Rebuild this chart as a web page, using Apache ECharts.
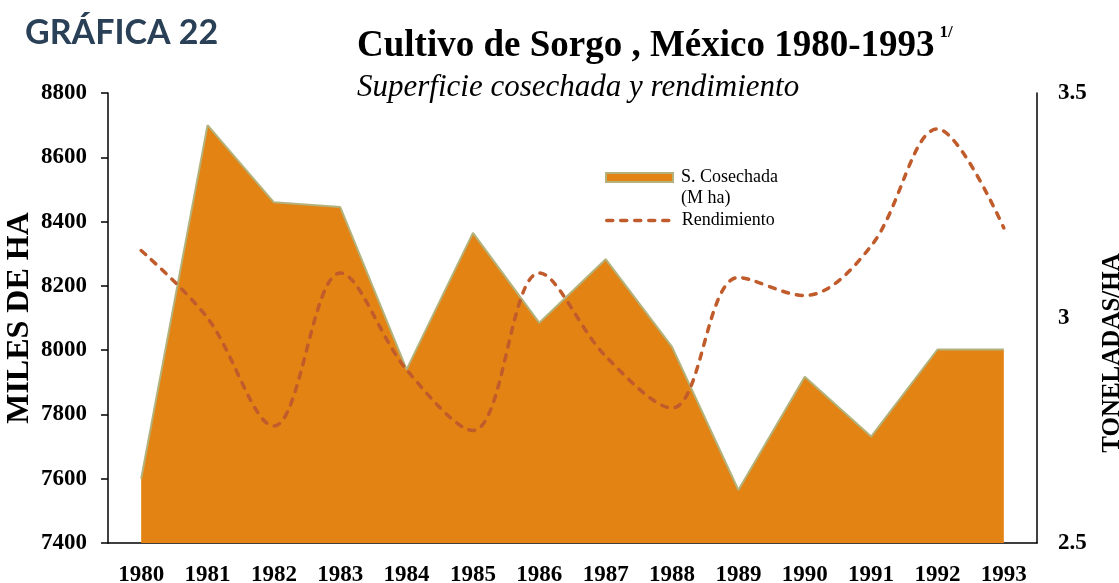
<!DOCTYPE html>
<html>
<head>
<meta charset="utf-8">
<title>Cultivo de Sorgo, México 1980-1993</title>
<script src="https://cdn.jsdelivr.net/npm/echarts@6/dist/echarts.min.js"></script>
<style>
  html, body { margin: 0; padding: 0; background: #fff; }
  #chart { width: 1119px; height: 583px; }
</style>
</head>
<body>
<div id="chart"></div>
<script>
// datos
const years = ['1980', '1981', '1982', '1983', '1984', '1985', '1986',
  '1987', '1988', '1989', '1990', '1991', '1992', '1993']
// superficie cosechada, miles de ha
const superficie = [7600, 8700, 8460, 8445, 7940, 8365, 8085, 8283, 8010, 7565, 7917, 7731, 8002, 8002]
// rendimiento, toneladas/ha
const rendimiento = [3.15, 3.0, 2.76, 3.10, 2.885, 2.75, 3.10, 2.915, 2.80, 3.09, 3.05, 3.16, 3.42, 3.20]

const serif = "'Liberation Serif', 'Times New Roman', serif"
const orange = '#e38314'
const olive = '#b3b27c'
const rust = '#c05b2c'

let myChart = echarts.init(document.getElementById('chart'))
let option = {
  backgroundColor: '#fff',
  animation: false,
  graphic: [{
    type: 'text',
    left: 25,
    top: 16,
    style: {
      text: 'GRÁFICA 22',
      font: "bold 34px Lato, 'Open Sans', sans-serif",
      fill: '#2a4057'
    }
  }],
  title: {
    left: 357,
    top: 24,
    itemGap: 8,
    padding: 0,
    text: '{a|Cultivo de Sorgo , México 1980-1993} {b|1/}',
    textStyle: {
      rich: {
        a: { fontFamily: serif, fontWeight: 'bold', fontSize: 37, color: '#000', lineHeight: 44 },
        b: { fontFamily: serif, fontWeight: 'bold', fontSize: 17, color: '#000', verticalAlign: 'top', lineHeight: 44, padding: [0, 0, 16, 0] }
      }
    },
    subtext: 'Superficie cosechada y rendimiento',
    subtextStyle: {
      fontFamily: serif,
      fontStyle: 'italic',
      fontSize: 31,
      color: '#000'
    }
  },
  legend: [{
    left: 605,
    top: 146,
    padding: 0,
    itemWidth: 67,
    itemHeight: 9,
    selectedMode: false,
    data: [{
      name: 'S. Cosechada',
      icon: 'rect',
      itemStyle: { color: orange, borderColor: olive, borderWidth: 2 }
    }],
    // linea vacia arriba para que el icono quede junto a la primera linea
    formatter: () => ' \nS. Cosechada\n(M ha)',
    textStyle: {
      fontFamily: serif,
      fontSize: 18,
      lineHeight: 21,
      color: '#000',
      padding: [0, 0, 0, 3]
    }
  }, {
    left: 605,
    top: 210,
    padding: 0,
    itemWidth: 67,
    itemHeight: 9,
    selectedMode: false,
    data: [{
      name: 'Rendimiento',
      itemStyle: { color: 'rgba(0,0,0,0)', borderWidth: 0, opacity: 0 },
      lineStyle: { color: rust, width: 3.5, type: [6, 8], cap: 'round' }
    }],
    textStyle: {
      fontFamily: serif,
      fontSize: 18,
      lineHeight: 21,
      color: '#000',
      padding: [0, 0, 0, 3]
    }
  }],
  grid: {
    left: 108,
    right: 82,
    top: 93,
    bottom: 40,
    outerBoundsMode: 'none'
  },
  xAxis: {
    type: 'category',
    data: years,
    boundaryGap: true,
    axisLine: { show: true, lineStyle: { color: '#000', width: 1.5 } },
    axisTick: { show: false },
    axisLabel: {
      margin: 21,
      fontFamily: serif,
      fontWeight: 'bold',
      fontSize: 23,
      color: '#000'
    },
    splitLine: { show: false }
  },
  yAxis: [{
    type: 'value',
    min: 7400,
    max: 8800,
    interval: 200,
    name: 'MILES DE HA',
    nameLocation: 'middle',
    nameGap: 72,
    nameMoveOverlap: false,
    nameTextStyle: {
      fontFamily: serif,
      fontWeight: 'bold',
      fontSize: 32,
      color: '#000'
    },
    axisLine: { show: true, lineStyle: { color: '#000', width: 1.5 } },
    axisTick: { show: true, length: 7, lineStyle: { color: '#000', width: 1.5 } },
    axisLabel: {
      margin: 21,
      fontFamily: serif,
      fontWeight: 'bold',
      fontSize: 23,
      color: '#000',
      formatter: (v) => String(v)
    },
    splitLine: { show: false }
  }, {
    type: 'value',
    position: 'right',
    min: 2.5,
    max: 3.5,
    interval: 0.5,
    name: 'TONELADAS/HA',
    nameLocation: 'middle',
    nameGap: 63,
    nameRotate: 90,
    nameMoveOverlap: false,
    nameTextStyle: {
      fontFamily: serif,
      fontWeight: 'bold',
      fontSize: 25,
      color: '#000',
      padding: [0, 70, 0, 0]
    },
    axisLine: { show: true, lineStyle: { color: '#000', width: 1.5 } },
    axisTick: { show: false },
    axisLabel: {
      margin: 21,
      fontFamily: serif,
      fontWeight: 'bold',
      fontSize: 23,
      color: '#000',
      formatter: (v) => String(v)
    },
    splitLine: { show: false }
  }],
  series: [{
    name: 'S. Cosechada',
    type: 'line',
    yAxisIndex: 0,
    data: superficie,
    symbol: 'none',
    itemStyle: { color: orange },
    lineStyle: { color: olive, width: 2 },
    areaStyle: { color: orange, opacity: 1 },
    z: 2
  }, {
    name: 'Rendimiento',
    type: 'line',
    yAxisIndex: 1,
    data: rendimiento,
    symbol: 'none',
    smooth: 0.35,
    itemStyle: { color: rust },
    lineStyle: { color: rust, width: 3.5, type: [6, 8], cap: 'round' },
    z: 3
  }]
}
myChart.setOption(option)
</script>
</body>
</html>
